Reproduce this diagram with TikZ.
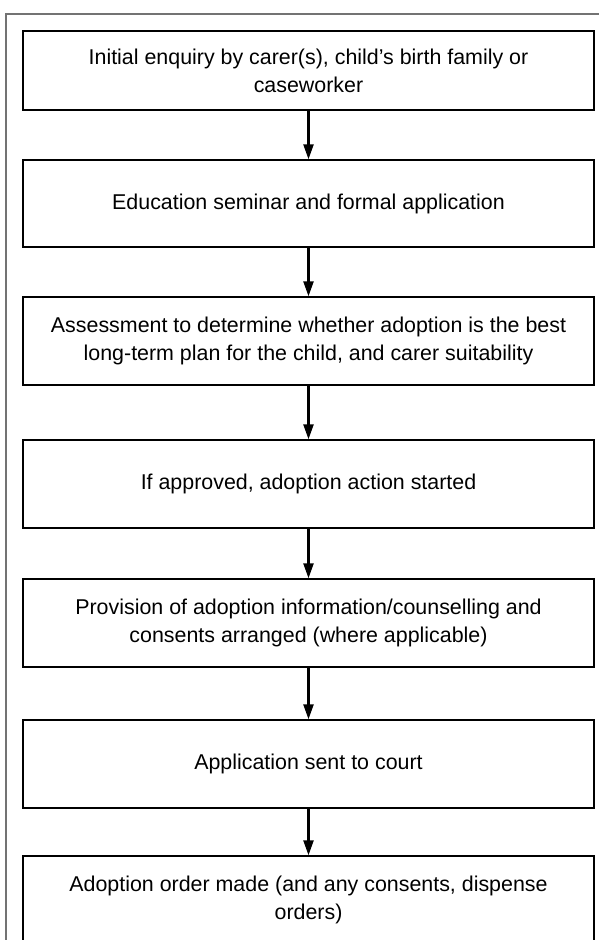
\documentclass[tikz,border=0pt]{standalone}
\usepackage{fontspec}
\setmainfont{Liberation Sans}
\usetikzlibrary{arrows.meta}
\tikzset{>={Triangle[length=15pt,width=10pt]}}
\tikzset{
	stagebox/.style={draw, line width=1.4pt, minimum width=571pt, minimum height=88pt,
		inner sep=0pt, align=center, font=\fontsize{21.4}{28}\selectfont},
	flowline/.style={->, line width=2.3pt}
}

\begin{document}
\begin{tikzpicture}[x=1pt,y=-1pt]
		\useasboundingbox (0,0) rectangle (599,940);
		\draw[black!55, line width=1.3pt] (6,940) -- (6,14) -- (599,14);
		
		\node[stagebox, minimum height=79pt] (s1) at (308.5,70.5) {Initial enquiry by carer(s), child’s birth family or\\caseworker};
		\node[stagebox, minimum height=87pt] (s2) at (308.5,203.5) {Education seminar and formal application};
		\node[stagebox] (s3) at (308.5,341) {Assessment to determine whether adoption is the best\\long-term plan for the child, and carer suitability};
		\node[stagebox] (s4) at (308.5,484) {If approved, adoption action started};
		\node[stagebox] (s5) at (308.5,623) {Provision of adoption information/counselling and\\consents arranged (where applicable)};
		\node[stagebox] (s6) at (308.5,764) {Application sent to court};
		\node[stagebox] (s7) at (308.5,900) {Adoption order made (and any consents, dispense\\orders)};
		
		\foreach \i [count=\j from 2] in {1,...,6}
		{
			\draw[flowline] (s\i) -- (s\j);
		}
	\end{tikzpicture}
\end{document}
